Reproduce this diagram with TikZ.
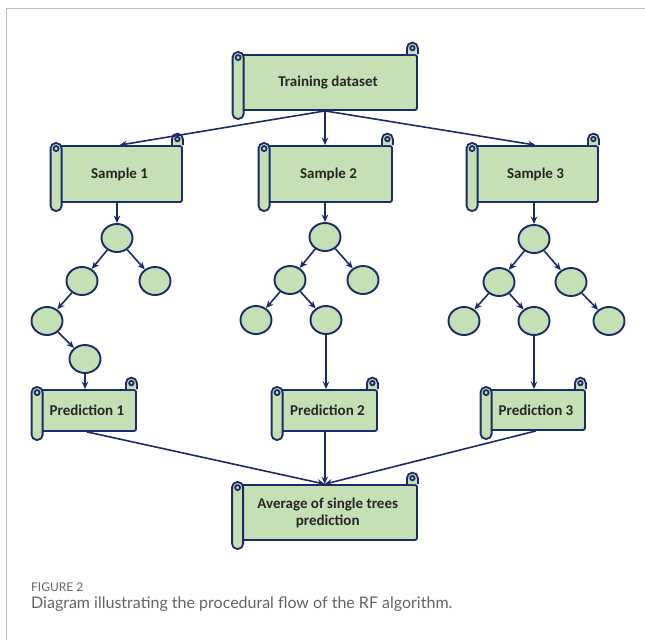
\documentclass[tikz,border=0pt]{standalone}
\usepackage{fontspec}
\setmainfont{Carlito}
\newfontfamily\capfont{Lato}
\usetikzlibrary{arrows.meta,calc,shapes.geometric}
\definecolor{navy}{RGB}{28,42,105}
\definecolor{leaf}{RGB}{197,224,180}
\definecolor{framegray}{RGB}{190,190,190}
\definecolor{capgray}{RGB}{100,100,100}
\tikzset{
  scrollbody/.style={draw=navy, line width=1.8pt, fill=leaf, rounded corners=2pt, inner sep=0pt,
    font=\bfseries\fontsize{15}{17}\selectfont, text=black!85, align=center},
  rollpart/.style={draw=navy, line width=1.8pt, fill=leaf},
  treenode/.style={ellipse, draw=navy, line width=1.9pt, fill=leaf, minimum width=31pt, minimum height=28pt, inner sep=0pt},
  link/.style={draw=navy, line width=1.6pt, -{Stealth[length=7.5pt,width=6.5pt]}},
  captext/.style={anchor=base west, inner sep=0pt, text=capgray},
}
% name, left (roll centre x), top, right, bottom, text
\newcommand\scrollnode[6]{%
  \pgfmathsetmacro\scw{#4-#2}\pgfmathsetmacro\sch{#5-#3}%
  \node[scrollbody, minimum width=\scw pt, minimum height=\sch pt] (#1) at ({(#2+#4)/2},{(#3+#5)/2}) {#6};
  \draw[rollpart] ($(#1.north east)+(-11,0)$) -- ++(0,-6) arc[start angle=180, delta angle=180, radius=5.5] -- ++(0,6);
  \draw[rollpart] ($(#1.north east)+(-5.5,-6)$) circle[radius=2.2];
  \draw[rollpart, rounded corners=5pt] ($(#1.north west)+(-5.5,-2)$) rectangle ($(#1.south west)+(5.5,8)$);
  \draw[rollpart] ($(#1.north west)+(0,3.5)$) circle[radius=2.5];
}
\begin{document}
\begin{tikzpicture}[x=1pt,y=-1pt]
\useasboundingbox (0,0) rectangle (645,640);
\draw[framegray, line width=1pt] (6,640) -- (6,8) -- (645,8);

% scroll boxes
\scrollnode{t}{239}{55}{417}{110}{Training dataset}
\scrollnode{s1}{57}{146}{182}{202}{Sample 1}
\scrollnode{s2}{265}{146}{392}{202}{Sample 2}
\scrollnode{s3}{473}{146}{598}{202}{Sample 3}
\scrollnode{p1}{38}{390}{136}{431}{Prediction 1}
\scrollnode{p2}{278}{390}{377}{431}{Prediction 2}
\scrollnode{p3}{487}{390}{585}{430}{Prediction 3}
\scrollnode{avg}{238.5}{485}{417}{540}{Average of single trees\\prediction}

% tree 1
\node[treenode] (r1) at (117,238) {};
\node[treenode] (l1) at (82,281) {};
\node[treenode] (rr1) at (155,281) {};
\node[treenode] (ll1) at (47,321) {};
\node[treenode] (llr1) at (85,359) {};
% tree 2
\node[treenode] (r2) at (325,237) {};
\node[treenode] (l2) at (290,280) {};
\node[treenode] (rr2) at (363,280) {};
\node[treenode] (ll2) at (256,320) {};
\node[treenode] (lr2) at (326,320) {};
% tree 3
\node[treenode] (r3) at (534,239) {};
\node[treenode] (l3) at (499,282) {};
\node[treenode] (rr3) at (571,282) {};
\node[treenode] (ll3) at (464,321) {};
\node[treenode] (lr3) at (534,321) {};
\node[treenode] (rrr3) at (609,321) {};

% training -> samples
\coordinate (tout) at ($(t.south)+(-3,0)$);
\draw[link] (tout) -- (s1.north);
\draw[link] (tout) -- (tout |- s2.north);
\draw[link] (tout) -- (s3.north);

% samples -> roots
\draw[link] (r1 |- s1.south) -- (r1);
\draw[link] (r2 |- s2.south) -- (r2);
\draw[link] (r3 |- s3.south) -- (r3);

% tree edges
\draw[link] (r1) -- (l1);
\draw[link] (r1) -- (rr1);
\draw[link] (l1) -- (ll1);
\draw[link] (ll1) -- (llr1);
\draw[link] (r2) -- (l2);
\draw[link] (r2) -- (rr2);
\draw[link] (l2) -- (ll2);
\draw[link] (l2) -- (lr2);
\draw[link] (r3) -- (l3);
\draw[link] (r3) -- (rr3);
\draw[link] (l3) -- (ll3);
\draw[link] (l3) -- (lr3);
\draw[link] (rr3) -- (rrr3);

% leaves -> predictions
\draw[link] (llr1.south) -- (llr1.south |- p1.north);
\draw[link] (lr2.south) -- (lr2.south |- p2.north);
\draw[link] (lr3.south) -- (lr3.south |- p3.north);

% predictions -> average
\coordinate (avgin) at ($(avg.north)+(-3,0)$);
\draw[link] (p1.south) -- (avgin);
\draw[link] (avgin |- p2.south) -- (avgin);
\draw[link] (p3.south) -- (avgin);

% caption
\node[captext, font=\capfont\fontsize{12}{14}\selectfont] (figlabel) at (31,591.5) {FIGURE 2};
\node[captext, font=\capfont\fontsize{16}{18}\selectfont] (caption) at (31,608) {Diagram illustrating the procedural flow of the RF algorithm.};
\end{tikzpicture}
\end{document}
